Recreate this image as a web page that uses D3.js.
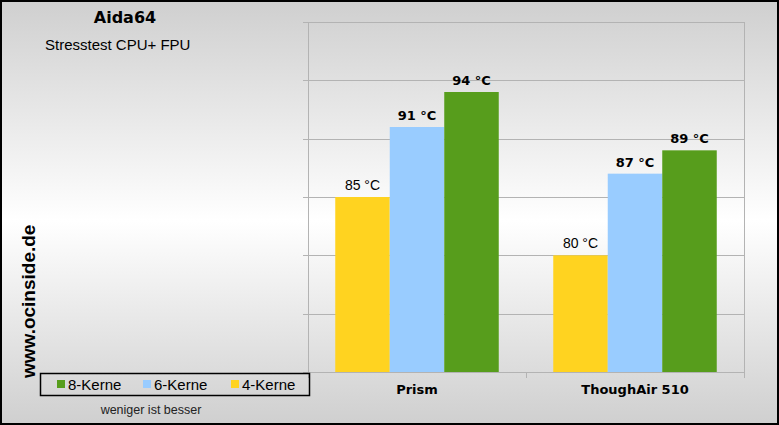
<!DOCTYPE html>
<html><head><meta charset="utf-8">
<script src="https://cdn.jsdelivr.net/npm/d3@7/dist/d3.min.js"></script>
<style>html,body{margin:0;padding:0;background:#fff;}svg{display:block;}</style>
</head><body>
<script>
const categories = ["Prism", "ThoughAir 510"];
const seriesNames = ["4-Kerne", "6-Kerne", "8-Kerne"];
const seriesColors = ["#FFD320", "#99CCFF", "#579D1C"];
const values4 = [85, 80];
const values6 = [91, 87];
const values8 = [94, 89];
const legendOrder = ["8-Kerne", "6-Kerne", "4-Kerne"];
const yTicks = [70, 75, 80, 85, 90, 95, 100];
const unit = " °C";

const W = 779, H = 425;
const svg = d3.select("body").append("svg").attr("width", W).attr("height", H);
const defs = svg.append("defs");
const grad = defs.append("linearGradient").attr("id", "bg").attr("x1", 0).attr("y1", 0).attr("x2", 0).attr("y2", 1);
grad.append("stop").attr("offset", "0%").attr("stop-color", "#cfcfcf");
grad.append("stop").attr("offset", "52%").attr("stop-color", "#ffffff");
grad.append("stop").attr("offset", "100%").attr("stop-color", "#cfcfcf");

svg.append("rect").attr("x", 0).attr("y", 0).attr("width", W).attr("height", H).attr("fill", "url(#bg)");

const plot = {l: 308, r: 744, t: 22, b: 372};
const x0 = d3.scaleBand().domain(categories).range([plot.l, plot.r]).paddingInner(0.25).paddingOuter(0.125);
const x1 = d3.scaleBand().domain(seriesNames).range([0, x0.bandwidth()]);
const y = d3.scaleLinear().domain([70, 100]).range([plot.b, plot.t]);

// gridlines
const gridColor = "#b3b3b3";
svg.append("g").selectAll("line").data(yTicks).join("line")
  .attr("x1", plot.l - 5).attr("x2", plot.r)
  .attr("y1", d => Math.round(y(d)) + 0.5).attr("y2", d => Math.round(y(d)) + 0.5)
  .attr("stroke", gridColor).attr("stroke-width", 1);
// left and right frame
svg.append("line").attr("x1", plot.l + 0.5).attr("x2", plot.l + 0.5).attr("y1", plot.t).attr("y2", plot.b + 6).attr("stroke", gridColor);
svg.append("line").attr("x1", plot.r + 0.5).attr("x2", plot.r + 0.5).attr("y1", plot.t).attr("y2", plot.b + 6).attr("stroke", gridColor);
// category separator ticks
const sepX = x0.step() + plot.l;
svg.append("line").attr("x1", Math.round(sepX) + 0.5).attr("x2", Math.round(sepX) + 0.5).attr("y1", plot.b).attr("y2", plot.b + 6).attr("stroke", gridColor);

const seriesData = [values4, values6, values8];
const rows = [];
categories.forEach((c, i) => seriesNames.forEach((s, j) => rows.push({c, s, j, v: seriesData[j][i]})));

svg.append("g").selectAll("rect").data(rows).join("rect")
  .attr("x", d => x0(d.c) + x1(d.s))
  .attr("width", x1.bandwidth())
  .attr("y", d => y(d.v))
  .attr("height", d => y(70) - y(d.v))
  .attr("fill", d => seriesColors[d.j]);

svg.append("g").selectAll("text").data(rows).join("text")
  .attr("x", d => x0(d.c) + x1(d.s) + x1.bandwidth() / 2)
  .attr("y", d => y(d.v) - 7)
  .attr("text-anchor", "middle")
  .attr("font-family", d => d.j === 0 ? "Liberation Sans, Arial, sans-serif" : "DejaVu Sans, Verdana, sans-serif")
  .attr("font-weight", d => d.j === 0 ? "normal" : "bold")
  .attr("font-size", d => d.j === 0 ? "14px" : "13px")
  .attr("fill", "#000")
  .text(d => d.v + unit);

// category labels
svg.append("g").selectAll("text").data(categories).join("text")
  .attr("x", d => x0(d) + x0.bandwidth() / 2)
  .attr("y", 394)
  .attr("text-anchor", "middle")
  .attr("font-family", "DejaVu Sans, Verdana, sans-serif")
  .attr("font-weight", "bold").attr("font-size", "13px")
  .text(d => d);

// titles
svg.append("text").attr("x", 125).attr("y", 23).attr("text-anchor", "middle")
  .attr("font-family", "DejaVu Sans, Verdana, sans-serif").attr("font-weight", "bold").attr("font-size", "16px")
  .text("Aida64");
svg.append("text").attr("x", 45).attr("y", 50)
  .attr("font-family", "Liberation Sans, Arial, sans-serif").attr("font-size", "15px")
  .text("Stresstest CPU+ FPU");
svg.append("text").attr("transform", "translate(35,378) rotate(-90)")
  .attr("font-family", "Liberation Sans, Arial, sans-serif").attr("font-weight", "bold").attr("font-size", "19px")
  .text("www.ocinside.de");

// legend
const lg = svg.append("g");
lg.append("rect").attr("x", 40.5).attr("y", 373.5).attr("width", 269).attr("height", 22)
  .attr("fill", "none").attr("stroke", "#000").attr("stroke-width", 1.5);
const legX = [57, 143, 231];
legendOrder.forEach((name, i) => {
  const j = seriesNames.indexOf(name);
  lg.append("rect").attr("x", legX[i]).attr("y", 380).attr("width", 8).attr("height", 8).attr("fill", seriesColors[j]);
  lg.append("text").attr("x", legX[i] + 11).attr("y", 390)
    .attr("font-family", "Liberation Sans, Arial, sans-serif").attr("font-size", "15px").text(name);
});
svg.append("text").attr("x", 151).attr("y", 414).attr("text-anchor", "middle")
  .attr("font-family", "Liberation Sans, Arial, sans-serif").attr("font-size", "12.5px").attr("fill", "#222")
  .text("weniger ist besser");

// outer border
svg.append("rect").attr("x", 1).attr("y", 1).attr("width", W - 2).attr("height", H - 2)
  .attr("fill", "none").attr("stroke", "#000").attr("stroke-width", 2);
</script>
</body></html>
